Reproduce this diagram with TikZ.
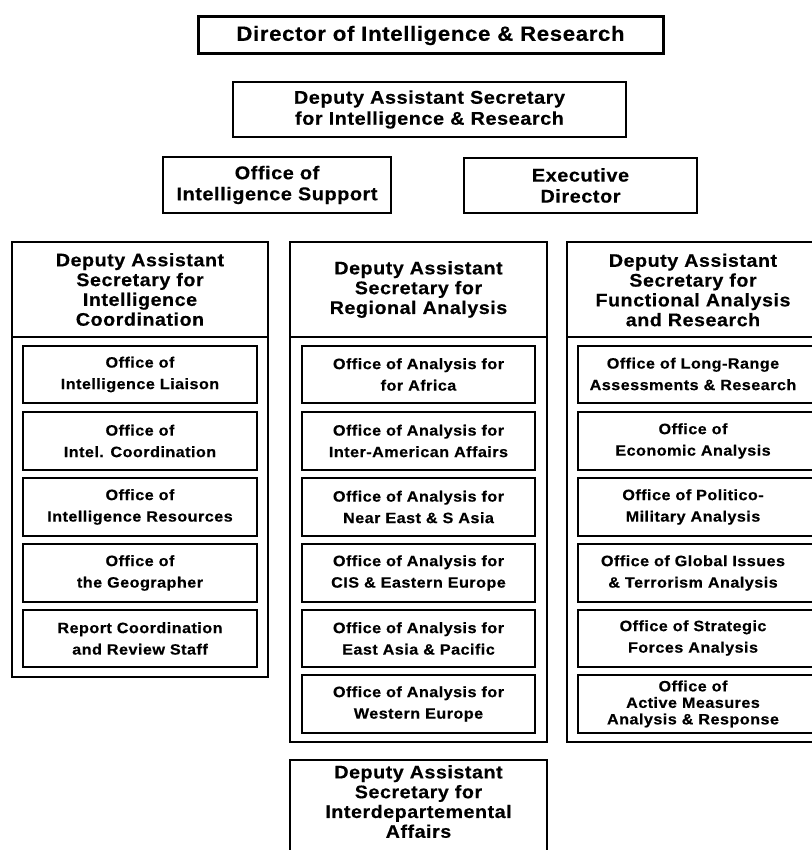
\documentclass[tikz,border=0pt]{standalone}
\usepackage{fontspec}
\setmainfont{Liberation Sans}[LetterSpace=3,FakeStretch=1.08,BoldFeatures={FakeBold=0.4}]

% box given by its corners: [style]{name}{x1}{y1}{x2}{y2}{text}
\newcommand\orgbox[7][]{%
  \node[ob,#1,minimum width={(#5-#3)*1pt},minimum height={(#6-#4)*1pt}]
    (#2) at ({(#3+#5)/2},{(#4+#6)/2}) {#7};}

\begin{document}
\begin{tikzpicture}[x=1pt,y=-1pt,
  ob/.style={draw=black,line width=1.6pt,fill=white,inner sep=0pt,align=center},
  dirbox/.style={line width=3pt,font=\bfseries\fontsize{20.6}{24}\selectfont},
  tierbox/.style={font=\bfseries\fontsize{18.4}{21}\selectfont},
  hdrbox/.style={font=\bfseries\fontsize{18.2}{19.8}\selectfont},
  unitbox/.style={line width=1.4pt,font=\bfseries\fontsize{15}{21.5}\selectfont},
  plain/.style={inner sep=0pt,align=center}]
\useasboundingbox (0,0) rectangle (811,850);
\fill[white] (0,0) rectangle (811,850);

% top of the organisation
\orgbox[dirbox]{dir}{198}{17}{663}{54}{Director of Intelligence \& Research}
\orgbox[tierbox]{das}{233}{82}{626}{137}{Deputy Assistant Secretary\\for Intelligence \& Research}
\orgbox[tierbox]{ois}{163}{157}{391}{213}{Office of\\Intelligence Support}
\orgbox[tierbox]{exd}{464}{158}{697}{213}{Executive\\Director}

% intelligence coordination
\orgbox{lbody}{12}{337}{268}{677}{}
\orgbox[hdrbox]{lhdr}{12}{242}{268}{337}{Deputy Assistant\\Secretary for\\Intelligence\\Coordination}
\orgbox[unitbox]{l1}{23}{346}{257}{403}{Office of\\Intelligence Liaison}
\orgbox[unitbox]{l2}{23}{412}{257}{470}{Office of\\Intel. Coordination}
\orgbox[unitbox]{l3}{23}{478}{257}{536}{Office of\\Intelligence Resources}
\orgbox[unitbox]{l4}{23}{544}{257}{602}{Office of\\the Geographer}
\orgbox[unitbox]{l5}{23}{610}{257}{667}{Report Coordination\\and Review Staff}

% regional analysis
\orgbox{mbody}{290}{337}{547}{742}{}
\orgbox[hdrbox]{mhdr}{290}{242}{547}{337}{Deputy Assistant\\Secretary for\\Regional Analysis}
\orgbox[unitbox]{m1}{302}{346}{535}{403}{Office of Analysis for\\for Africa}
\orgbox[unitbox]{m2}{302}{412}{535}{470}{Office of Analysis for\\Inter-American Affairs}
\orgbox[unitbox]{m3}{302}{478}{535}{536}{Office of Analysis for\\Near East \& S Asia}
\orgbox[unitbox]{m4}{302}{544}{535}{602}{Office of Analysis for\\CIS \& Eastern Europe}
\orgbox[unitbox]{m5}{302}{610}{535}{667}{Office of Analysis for\\East Asia \& Pacific}
\orgbox[unitbox]{m6}{302}{675}{535}{733}{Office of Analysis for\\Western Europe}

% functional analysis (runs off the right edge)
\orgbox{rbody}{567}{337}{824}{742}{}
\orgbox[hdrbox]{rhdr}{567}{242}{824}{337}{}
\node[plain,hdrbox] (rhdrt) at (693,290) {Deputy Assistant\\Secretary for\\Functional Analysis\\and Research};
\orgbox[unitbox]{r1}{578}{346}{813}{403}{}
\node[plain,unitbox] (r1t) at (693,374) {Office of Long-Range\\Assessments \& Research};
\orgbox[unitbox]{r2}{578}{412}{813}{470}{}
\node[plain,unitbox] (r2t) at (693,441) {Office of\\Economic Analysis};
\orgbox[unitbox]{r3}{578}{478}{813}{536}{}
\node[plain,unitbox] (r3t) at (693,507) {Office of Politico-\\Military Analysis};
\orgbox[unitbox]{r4}{578}{544}{813}{602}{}
\node[plain,unitbox] (r4t) at (693,573) {Office of Global Issues\\\& Terrorism Analysis};
\orgbox[unitbox]{r5}{578}{610}{813}{667}{}
\node[plain,unitbox] (r5t) at (693,638) {Office of Strategic\\Forces Analysis};
\orgbox[unitbox]{r6}{578}{675}{813}{733}{}
\node[plain,font=\bfseries\fontsize{15}{16.5}\selectfont] (r6t) at (693,704) {Office of\\Active Measures\\Analysis \& Response};

% interdepartmental affairs (runs off the bottom edge)
\orgbox{ibox}{290}{760}{547}{880}{}
\node[plain,hdrbox,anchor=north] (ibt) at (418.5,765) {Deputy Assistant\\Secretary for\\Interdepartemental\\Affairs};
\end{tikzpicture}
\end{document}
